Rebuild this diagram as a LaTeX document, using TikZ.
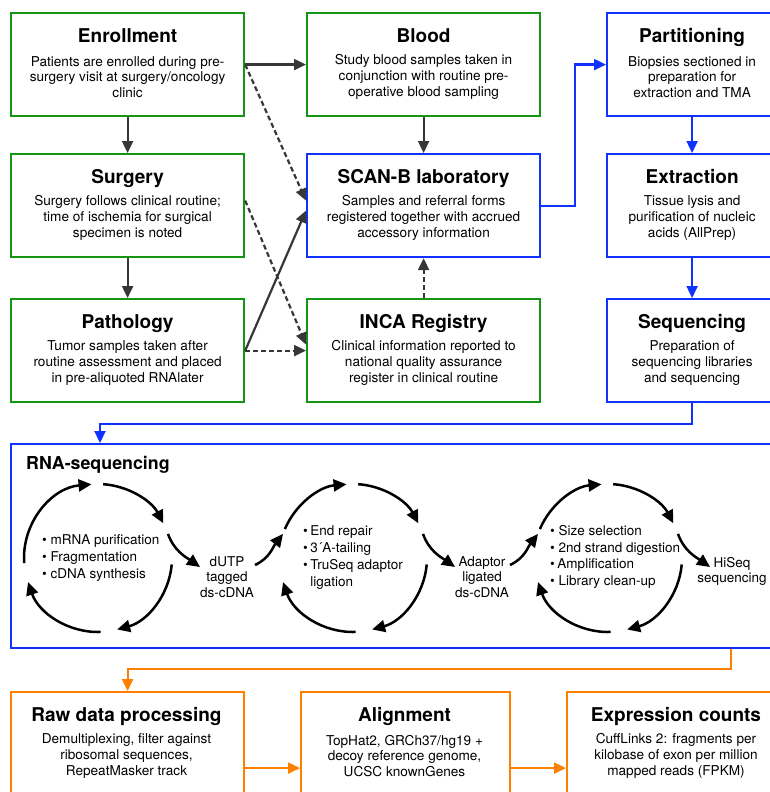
\documentclass[tikz,border=0pt]{standalone}
\usepackage{fontspec}
\setmainfont{TeX Gyre Heros}
\usetikzlibrary{arrows.meta,calc}
\definecolor{gr}{RGB}{20,150,20}
\definecolor{bl}{RGB}{15,50,255}
\definecolor{orng}{RGB}{255,128,0}
\definecolor{dk}{RGB}{55,55,55}
\tikzset{
 box/.style={draw=#1, line width=2.2pt, rectangle, anchor=north west, inner sep=0pt},
 ttl/.style={font=\fontsize{19}{22}\selectfont\bfseries, inner sep=0pt, anchor=base},
 bdy/.style={font=\fontsize{13.6}{15.8}\selectfont, align=center, inner sep=0pt},
 conn/.style={draw=dk, line width=2.2pt, -{Triangle[length=12pt,width=11pt]}},
 dconn/.style={conn, dash pattern=on 5pt off 3pt},
 bconn/.style={conn, draw=bl},
 oconn/.style={conn, draw=orng},
 cyc/.style={draw=black, line width=2.5pt, -{Triangle[length=13pt,width=12pt]}},
 lbl/.style={font=\fontsize{13.5}{15.8}\selectfont, align=center, inner sep=0pt},
 lst/.style={font=\fontsize{13.5}{16.7}\selectfont, align=left, inner sep=0pt, anchor=west},
}
\newcommand\bt{\textbullet\ }
\newcommand\bn{\textbullet\hspace{2.5pt}}
\begin{document}
\begin{tikzpicture}[x=1pt,y=1pt]
\path[use as bounding box, clip] (0,0) rectangle (770,-792);
\fill[white] (0,0) rectangle (770,-792);

% ---- boxes ----
\node[box=gr, minimum width=233pt, minimum height=103pt] (enr) at (10,-12) {};
\node[box=gr, minimum width=233pt, minimum height=103pt] (sur) at (10,-153) {};
\node[box=gr, minimum width=233pt, minimum height=103pt] (pat) at (10,-298) {};
\node[box=gr, minimum width=233pt, minimum height=103pt] (blo) at (306,-12) {};
\node[box=bl, minimum width=233pt, minimum height=103pt] (scb) at (306,-153) {};
\node[box=gr, minimum width=233pt, minimum height=103pt] (inca) at (306,-298) {};
\node[box=bl, minimum width=170pt, minimum height=103pt] (par) at (606,-12) {};
\node[box=bl, minimum width=170pt, minimum height=103pt] (ext) at (606,-153) {};
\node[box=bl, minimum width=170pt, minimum height=103pt] (seq) at (606,-298) {};
\node[box=bl, minimum width=790pt, minimum height=204pt] (rna) at (10,-443) {};
\node[box=orng, minimum width=233pt, minimum height=130pt] (raw) at (10,-691) {};
\node[box=orng, minimum width=209pt, minimum height=130pt] (aln) at (300,-691) {};
\node[box=orng, minimum width=220pt, minimum height=130pt] (exq) at (566,-691) {};

% ---- titles and texts ----
\node[ttl] (enrT) at ($(enr.north)+(0,-30.5)$) {Enrollment};
\node[bdy] (enrB) at ($(enr.north)+(0,-65)$) {Patients are enrolled during pre-\\surgery visit at surgery/oncology\\clinic};
\node[ttl] (surT) at ($(sur.north)+(0,-30.5)$) {Surgery};
\node[bdy] (surB) at ($(sur.north)+(0,-65)$) {Surgery follows clinical routine;\\time of ischemia for surgical\\specimen is noted};
\node[ttl] (patT) at ($(pat.north)+(0,-30.5)$) {Pathology};
\node[bdy] (patB) at ($(pat.north)+(0,-65)$) {Tumor samples taken after\\routine assessment and placed\\in pre-aliquoted RNAlater};
\node[ttl] (bloT) at ($(blo.north)+(0,-30.5)$) {Blood};
\node[bdy] (bloB) at ($(blo.north)+(0,-65)$) {Study blood samples taken in\\conjunction with routine pre-\\operative blood sampling};
\node[ttl] (scbT) at ($(scb.north)+(0,-30.5)$) {SCAN-B laboratory};
\node[bdy] (scbB) at ($(scb.north)+(0,-65)$) {Samples and referral forms\\registered together with accrued\\accessory information};
\node[ttl] (incaT) at ($(inca.north)+(0,-30.5)$) {INCA Registry};
\node[bdy] (incaB) at ($(inca.north)+(0,-65)$) {Clinical information reported to\\national quality assurance\\register in clinical routine};
\node[ttl] (parT) at ($(par.north)+(0,-30.5)$) {Partitioning};
\node[bdy] (parB) at ($(par.north)+(0,-65)$) {Biopsies sectioned in\\preparation for\\extraction and TMA};
\node[ttl] (extT) at ($(ext.north)+(0,-30.5)$) {Extraction};
\node[bdy] (extB) at ($(ext.north)+(0,-65)$) {Tissue lysis and\\purification of nucleic\\acids (AllPrep)};
\node[ttl] (seqT) at ($(seq.north)+(0,-30.5)$) {Sequencing};
\node[bdy] (seqB) at ($(seq.north)+(0,-65)$) {Preparation of\\sequencing libraries\\and sequencing};
\node[ttl] (rawT) at (126.5,-721.5) {Raw data processing};
\node[bdy] (rawB) at (126.5,-756) {Demultiplexing, filter against\\ribosomal sequences,\\RepeatMasker track};
\node[ttl] (alnT) at (404.5,-721.5) {Alignment};
\node[bdy] (alnB) at (404.5,-756) {TopHat2, GRCh37/hg19 +\\decoy reference genome,\\UCSC knownGenes};
\node[ttl] (exqT) at (676,-721.5) {Expression counts};
\node[bdy] (exqB) at (676,-756) {CuffLinks 2: fragments per\\kilobase of exon per million\\mapped reads (FPKM)};

\node[font=\fontsize{17.8}{20}\selectfont\bfseries, inner sep=0pt, anchor=base west] (rnaT) at (26,-469.5) {RNA-sequencing};

% ---- top connectors ----
\draw[conn] (enr.east) -- (blo.west);
\draw[dconn] (enr.east) -- ($(scb.west)+(0,5)$);
\draw[conn] (enr.south) -- (sur.north);
\draw[conn] (sur.south) -- (pat.north);
\draw[conn] (blo.south) -- (scb.north);
\draw[dconn] (inca.north) -- (scb.south);
\draw[dconn] ($(sur.east)+(0,5)$) -- ($(inca.west)+(0,6)$);
\draw[dconn] (pat.east) -- (inca.west);
\draw[conn] (pat.east) -- ($(scb.west)+(0,-5)$);
\draw[bconn] (scb.east) -- ++(34,0) |- (par.west);
\draw[bconn] (par.south) -- (ext.north);
\draw[bconn] (ext.south) -- (seq.north);
\coordinate (rnaIn) at ($(rna.north west)+(90,0)$);
\draw[bconn] (seq.south) -- ++(0,-21) -| (rnaIn);
\coordinate (rnaOut) at ($(rna.south west)+(721,0)$);
\draw[oconn] (rnaOut) -- ++(0,-20) -| (raw.north);
\draw[oconn] ($(raw.east)+(0,-11)$) -- ($(aln.west)+(0,-11)$);
\draw[oconn] ($(aln.east)+(0,-11)$) -- ($(exq.west)+(0,-11)$);

% ---- cycles ----
\coordinate (c1) at (98,-558);
\coordinate (c2) at (353,-558);
\coordinate (c3) at (608,-558);
% cycle 1
\draw[cyc] ([shift={(184:74pt)}]c1) arc[start angle=184,end angle=95,radius=74pt];
\draw[cyc] ([shift={(86:74pt)}]c1) arc[start angle=86,end angle=28,radius=74pt];
\draw[cyc] ([shift={(-5:74pt)}]c1) arc[start angle=-5,end angle=-75,radius=74pt];
\draw[cyc] ([shift={(-88:74pt)}]c1) arc[start angle=-88,end angle=-161,radius=74pt];
\draw[cyc] ([shift={(19:74pt)}]c1) to[out=-70,in=145] ([shift={(102pt,-9pt)}]c1);
% cycles 2 and 3
\foreach \c in {c2,c3}{
 \draw[cyc] ([shift={(-98pt,-7pt)}]\c) to[out=25,in=-128] ([shift={(161:74pt)}]\c);
 \draw[cyc] ([shift={(157:74pt)}]\c) arc[start angle=157,end angle=95,radius=74pt];
 \draw[cyc] ([shift={(86:74pt)}]\c) arc[start angle=86,end angle=28,radius=74pt];
 \draw[cyc] ([shift={(-5:74pt)}]\c) arc[start angle=-5,end angle=-75,radius=74pt];
 \draw[cyc] ([shift={(-88:74pt)}]\c) arc[start angle=-88,end angle=-161,radius=74pt];
 \draw[cyc] ([shift={(19:74pt)}]\c) to[out=-70,in=145] ([shift={(102pt,-9pt)}]\c);
}

% ---- cycle texts ----
\node[lst] (l1) at (42,-558) {\bt mRNA purification\\\bt Fragmentation\\\bt cDNA synthesis};
\node[lst] (l2) at (303,-557.5) {\bn End repair\\\bn 3´A-tailing\\\bn TruSeq adaptor\\\hphantom{\bn}ligation};
\node[lst] (l3) at (550,-557) {\bt Size selection\\\bt 2nd strand digestion\\\bn Amplification\\\bt Library clean-up};
\node[lbl] (m1) at (227,-577) {dUTP\\tagged\\ds-cDNA};
\node[lbl] (m2) at (482,-577) {Adaptor\\ligated\\ds-cDNA};
\node[lbl] (m3) at (732,-571.5) {HiSeq\\sequencing};
\end{tikzpicture}
\end{document}
